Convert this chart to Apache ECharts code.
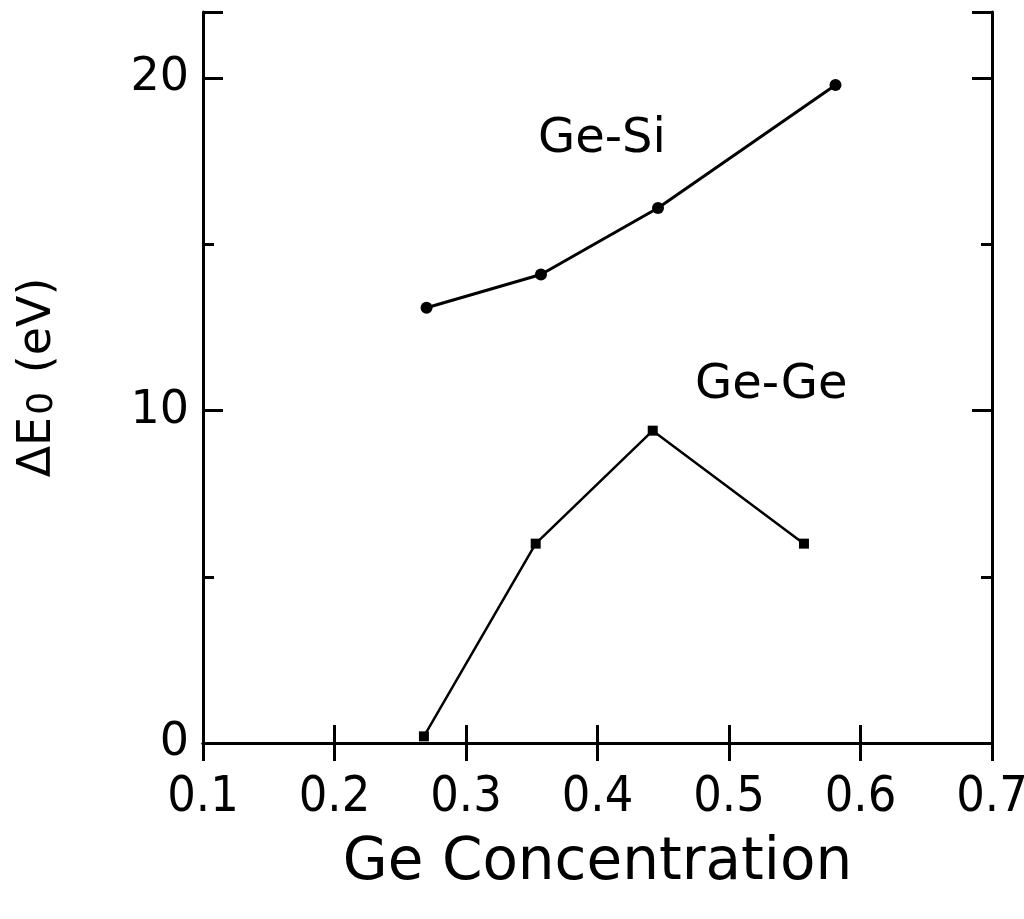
<!DOCTYPE html>
<html>
<head>
<meta charset="utf-8">
<script src="https://cdn.jsdelivr.net/npm/echarts@6/dist/echarts.min.js"></script>
<style>
  html, body { margin: 0; padding: 0; background: #fff; }
  #chart { width: 1024px; height: 919px; }
</style>
</head>
<body>
<div id="chart"></div>
<script>
// Ge concentration vs delta E0 (eV)
const geSiX = [0.270, 0.357, 0.446, 0.581];
const geSiY = [13.1, 14.1, 16.1, 19.8];
const geGeX = [0.268, 0.353, 0.442, 0.557];
const geGeY = [0.2, 6.0, 9.4, 6.0];
const yLabels = [0, 10, 20];

const font = "'Liberation Sans Narrow', 'DejaVu Sans Condensed', 'Liberation Sans', sans-serif";
const wideFont = "'DejaVu Sans', sans-serif";

function pairs(xs, ys) {
  return xs.map(function (x, i) { return [x, ys[i]]; });
}

let chart = echarts.init(document.getElementById("chart"));

let yBase = {
  type: "value",
  min: 0,
  max: 22,
  interval: 10,
  splitLine: { show: false },
  axisLine: { show: true, lineStyle: { color: "#000", width: 3 } },
  axisTick: { show: true, inside: true, length: 20, lineStyle: { color: "#000", width: 3 } },
  minorTick: { show: true, splitNumber: 2, length: 11, lineStyle: { color: "#000", width: 3 } },
};

let xBase = {
  type: "value",
  min: 0.1,
  max: 0.7,
  interval: 0.1,
  splitLine: { show: false },
  axisLine: { show: true, lineStyle: { color: "#000", width: 3 } },
  axisTick: { show: true, inside: true, length: 18, lineStyle: { color: "#000", width: 3 } },
};

let option = {
  backgroundColor: "#fff",
  animation: false,
  grid: { left: 203, right: 32, top: 12, bottom: 176, outerBoundsMode: "none", containLabel: false },
  xAxis: [
    Object.assign({}, xBase, {
      position: "bottom",
      name: "Ge Concentration",
      nameLocation: "middle",
      nameGap: 92,
      nameTextStyle: { fontFamily: wideFont, fontSize: 58, color: "#000" },
      axisLabel: {
        margin: 30,
        fontFamily: font,
        fontSize: 50,
        color: "#000",
        hideOverlap: false,
        formatter: function (v) { return v.toFixed(1); },
      },
    }),
    Object.assign({}, xBase, { position: "top", axisLabel: { show: false } }),
  ],
  yAxis: [
    Object.assign({}, yBase, {
      position: "left",
      name: "{a|ΔE}{s|0}{a| (eV)}",
      nameLocation: "middle",
      nameGap: 142,
      nameRotate: 90,
      nameTextStyle: {
        rich: {
          a: { fontFamily: wideFont, fontSize: 46, color: "#000" },
          s: { fontFamily: wideFont, fontSize: 36, color: "#000", verticalAlign: "bottom", padding: [0, 4, 0, 2] },
        },
      },
      axisLabel: {
        margin: 14,
        fontFamily: wideFont,
        fontSize: 46,
        color: "#000",
        hideOverlap: false,
        formatter: function (v) { return yLabels.indexOf(v) >= 0 ? String(v) : ""; },
      },
    }),
    Object.assign({}, yBase, { position: "right", axisLabel: { show: false } }),
  ],
  graphic: [
    {
      type: "text", x: 538, y: 140,
      style: { text: "Ge-Si", font: "48px " + wideFont, fill: "#000", verticalAlign: "middle" },
    },
    {
      type: "text", x: 695, y: 386,
      style: { text: "Ge-Ge", font: "48px " + wideFont, fill: "#000", verticalAlign: "middle" },
    },
  ],
  series: [
    {
      name: "Ge-Si",
      type: "line",
      data: pairs(geSiX, geSiY),
      symbol: "circle",
      symbolSize: 12,
      itemStyle: { color: "#000" },
      lineStyle: { color: "#000", width: 3 },
    },
    {
      name: "Ge-Ge",
      type: "line",
      data: pairs(geGeX, geGeY),
      symbol: "rect",
      symbolSize: 10,
      itemStyle: { color: "#000" },
      lineStyle: { color: "#000", width: 2.5 },
    },
  ],
};

chart.setOption(option);
</script>
</body>
</html>
